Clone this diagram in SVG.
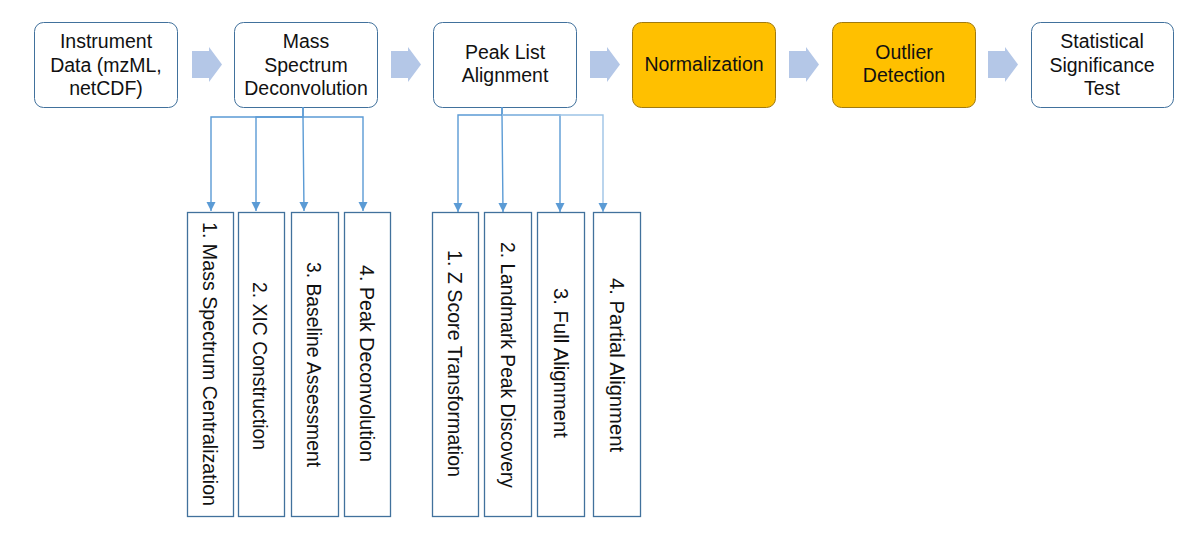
<svg xmlns="http://www.w3.org/2000/svg" width="1183" height="539" viewBox="0 0 1183 539">
<defs>
<style>
.nb{fill:#fff;stroke:#41719C;stroke-width:1}
.yb{fill:#FFC000;stroke:#A07A10;stroke-width:1}
.sb{fill:#fff;stroke:#41719C;stroke-width:1.3}
.t{font-family:"Liberation Sans",Arial,sans-serif;font-size:19.5px;fill:#111;text-anchor:middle}
.v{font-family:"Liberation Sans",Arial,sans-serif;font-size:21px;fill:#111;text-anchor:middle}
.ba{fill:#B4C7E7}
.c{fill:none;stroke:#5B9BD5;stroke-width:1.4}
</style>
<marker id="ah" markerUnits="userSpaceOnUse" markerWidth="10" markerHeight="10" viewBox="0 0 10 10" refX="9" refY="5" orient="auto">
<path d="M0,0.5 L9,5 L0,9.5 Z" fill="#5B9BD5"/>
</marker>
<path id="blk" d="M0,51 H17 V47 L30,64.5 L17,82 V78 H0 Z"/>
</defs>
<rect width="1183" height="539" fill="#fff"/>

<g id="block-arrows" class="ba">
<use href="#blk" x="192"/>
<use href="#blk" x="391"/>
<use href="#blk" x="590"/>
<use href="#blk" x="789"/>
<use href="#blk" x="988"/>
</g>

<g id="n1"><rect class="nb" x="34.5" y="22.5" width="143" height="85" rx="9"/>
<text class="t" x="106" y="48">Instrument</text><text class="t" x="106" y="71.5">Data (mzML,</text><text class="t" x="106" y="95">netCDF)</text></g>
<g id="n2"><rect class="nb" x="234.5" y="22.5" width="143" height="85" rx="9"/>
<text class="t" x="306" y="48">Mass</text><text class="t" x="306" y="71.5">Spectrum</text><text class="t" x="306" y="95">Deconvolution</text></g>
<g id="n3"><rect class="nb" x="433.5" y="22.5" width="143" height="85" rx="9"/>
<text class="t" x="505" y="59">Peak List</text><text class="t" x="505" y="82">Alignment</text></g>
<g id="n4"><rect class="yb" x="632.5" y="22.5" width="143" height="85" rx="9"/>
<text class="t" x="704" y="70.5">Normalization</text></g>
<g id="n5"><rect class="yb" x="832.5" y="22.5" width="143" height="85" rx="9"/>
<text class="t" x="904" y="59">Outlier</text><text class="t" x="904" y="82">Detection</text></g>
<g id="n6"><rect class="nb" x="1031.5" y="22.5" width="142" height="85" rx="9"/>
<text class="t" x="1102" y="48">Statistical</text><text class="t" x="1102" y="71.5">Significance</text><text class="t" x="1102" y="95">Test</text></g>

<g id="connectors">
<path class="c" d="M303,107 V117 H211 V211" marker-end="url(#ah)"/>
<path class="c" d="M303,117 H256 V211" marker-end="url(#ah)"/>
<path class="c" d="M303,107 V117 L304,211" marker-end="url(#ah)"/>
<path class="c" d="M303,117 H363 V211" marker-end="url(#ah)"/>
<path class="c" d="M502,107 V115 H458 V212" marker-end="url(#ah)"/>
<path class="c" d="M502,107 V115 L503,212" marker-end="url(#ah)"/>
<path class="c" d="M502,115 H560 V212" marker-end="url(#ah)"/>
<path class="c" d="M502,115 H603 V212" marker-end="url(#ah)" style="stroke:#9DC3E6"/>
</g>

<g id="s1"><rect class="sb" x="187.5" y="212.5" width="46" height="304"/>
<text class="v" transform="translate(210,364) rotate(90)" y="7" textLength="284" lengthAdjust="spacingAndGlyphs">1. Mass Spectrum Centralization</text></g>
<g id="s2"><rect class="sb" x="238.5" y="212.5" width="46" height="304"/>
<text class="v" transform="translate(260,366) rotate(90)" y="7" textLength="168" lengthAdjust="spacingAndGlyphs">2. XIC Construction</text></g>
<g id="s3"><rect class="sb" x="291.5" y="212.5" width="47" height="304"/>
<text class="v" transform="translate(314,364.5) rotate(90)" y="7" textLength="205" lengthAdjust="spacingAndGlyphs">3. Baseline Assessment</text></g>
<g id="s4"><rect class="sb" x="344.5" y="212.5" width="46" height="304"/>
<text class="v" transform="translate(366.5,363.5) rotate(90)" y="7" textLength="197" lengthAdjust="spacingAndGlyphs">4. Peak Deconvolution</text></g>

<g id="s5"><rect class="sb" x="432.5" y="212.5" width="46" height="304"/>
<text class="v" transform="translate(455,363.5) rotate(90)" y="7" textLength="227" lengthAdjust="spacingAndGlyphs">1. Z Score Transformation</text></g>
<g id="s6"><rect class="sb" x="484.5" y="212.5" width="47" height="304"/>
<text class="v" transform="translate(508,365) rotate(90)" y="7" textLength="246" lengthAdjust="spacingAndGlyphs">2. Landmark Peak Discovery</text></g>
<g id="s7"><rect class="sb" x="537.5" y="212.5" width="47" height="304"/>
<text class="v" transform="translate(560.5,363) rotate(90)" y="7" textLength="150" lengthAdjust="spacingAndGlyphs">3. Full Alignment</text></g>
<g id="s8"><rect class="sb" x="593.5" y="212.5" width="47" height="304"/>
<text class="v" transform="translate(616.5,365) rotate(90)" y="7" textLength="174" lengthAdjust="spacingAndGlyphs">4. Partial Alignment</text></g>
</svg>
